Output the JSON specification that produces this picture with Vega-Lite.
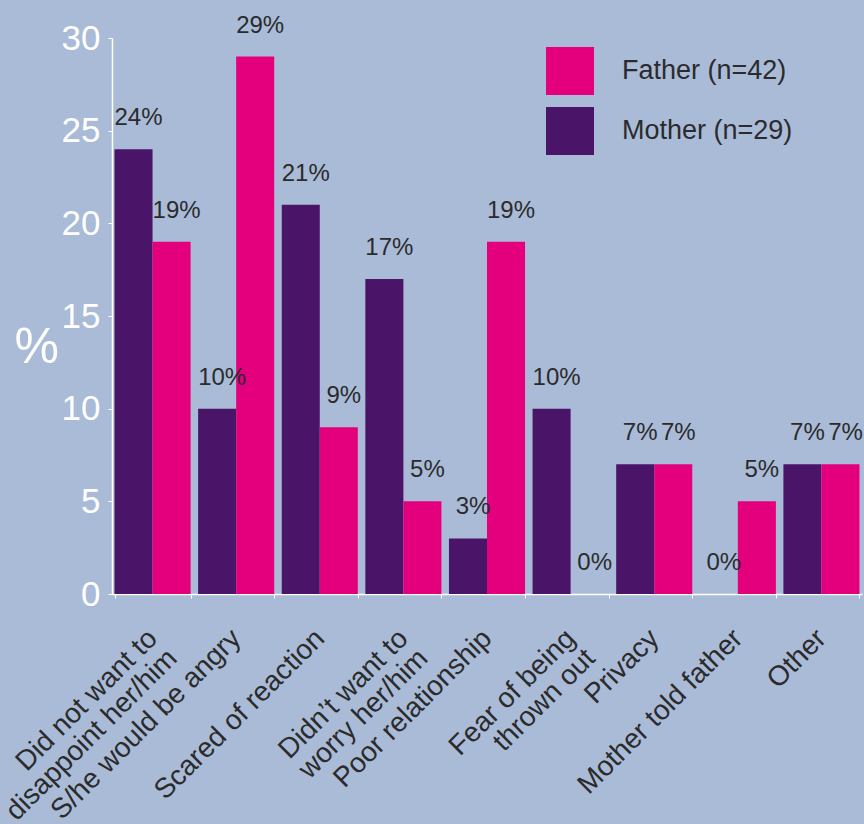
{
  "$schema": "https://vega.github.io/schema/vega-lite/v6.json",
  "width": 750,
  "height": 556,
  "autosize": {"type": "none"},
  "padding": {"left": 112, "top": 38, "right": 2, "bottom": 230},
  "background": "#aabbd8",
  "config": {
    "view": {"stroke": null},
    "font": "Liberation Sans"
  },
  "data": {
    "values": [
      {"reason": "Did not want to|disappoint her/him", "parent": "Mother (n=29)", "value": 24},
      {"reason": "Did not want to|disappoint her/him", "parent": "Father (n=42)", "value": 19},
      {"reason": "S/he would be angry", "parent": "Mother (n=29)", "value": 10},
      {"reason": "S/he would be angry", "parent": "Father (n=42)", "value": 29},
      {"reason": "Scared of reaction", "parent": "Mother (n=29)", "value": 21},
      {"reason": "Scared of reaction", "parent": "Father (n=42)", "value": 9},
      {"reason": "Didn’t want to|worry her/him", "parent": "Mother (n=29)", "value": 17},
      {"reason": "Didn’t want to|worry her/him", "parent": "Father (n=42)", "value": 5},
      {"reason": "Poor relationship", "parent": "Mother (n=29)", "value": 3},
      {"reason": "Poor relationship", "parent": "Father (n=42)", "value": 19},
      {"reason": "Fear of being|thrown out", "parent": "Mother (n=29)", "value": 10},
      {"reason": "Fear of being|thrown out", "parent": "Father (n=42)", "value": 0},
      {"reason": "Privacy", "parent": "Mother (n=29)", "value": 7},
      {"reason": "Privacy", "parent": "Father (n=42)", "value": 7},
      {"reason": "Mother told father", "parent": "Mother (n=29)", "value": 0},
      {"reason": "Mother told father", "parent": "Father (n=42)", "value": 5},
      {"reason": "Other", "parent": "Mother (n=29)", "value": 7},
      {"reason": "Other", "parent": "Father (n=42)", "value": 7}
    ]
  },
  "transform": [{"calculate": "datum.value + '%'", "as": "label"}],
  "encoding": {
    "x": {
      "field": "reason",
      "type": "nominal",
      "sort": null,
      "scale": {"paddingInner": 0.09, "paddingOuter": 0.03},
      "axis": {
        "title": null,
        "labelAngle": -45,
        "labelAlign": "right",
        "labelBaseline": "middle",
        "labelExpr": "split(datum.label, '|')",
        "labelFontSize": 28,
        "labelColor": "#2b2b2b",
        "labelLineHeight": 28,
        "labelPadding": 36,
        "labelLimit": 500,
        "labelOverlap": false,
        "labelBound": false,
        "domainColor": "white",
        "domainWidth": 1.5,
        "tickColor": "white",
        "tickSize": 4,
        "tickBand": "extent",
        "grid": false
      }
    },
    "xOffset": {"field": "parent", "type": "nominal", "sort": ["Mother (n=29)", "Father (n=42)"]},
    "y": {
      "field": "value",
      "type": "quantitative",
      "scale": {"domain": [0, 30], "nice": false},
      "axis": {
        "title": "%",
        "titleAngle": 0,
        "titleColor": "white",
        "titleFontSize": 50,
        "titleFontWeight": "normal",
        "titleX": -98,
        "titleY": 334,
        "titleAlign": "left",
        "values": [0, 5, 10, 15, 20, 25, 30],
        "labelFontSize": 35,
        "labelColor": "white",
        "labelPadding": 8,
        "domainColor": "white",
        "domainWidth": 1.5,
        "tickColor": "white",
        "tickSize": 4,
        "grid": false
      }
    }
  },
  "layer": [
    {
      "mark": {"type": "bar"},
      "encoding": {
        "color": {
          "field": "parent",
          "type": "nominal",
          "scale": {"domain": ["Father (n=42)", "Mother (n=29)"], "range": ["#e4007d", "#4a1568"]},
          "legend": {
            "title": null,
            "orient": "none",
            "legendX": 434,
            "legendY": 9,
            "padding": 0,
            "symbolType": "square",
            "symbolSize": 2304,
            "symbolStrokeWidth": 0,
            "symbolOpacity": 1,
            "labelFontSize": 27,
            "labelColor": "#2b2b2b",
            "labelOffset": 28,
            "rowPadding": 12,
            "labelLimit": 400
          }
        }
      }
    },
    {
      "mark": {"type": "text", "fontSize": 24, "color": "#2b2b2b", "dx": 5, "dy": -24, "baseline": "alphabetic"},
      "encoding": {"text": {"field": "label"}}
    }
  ]
}
